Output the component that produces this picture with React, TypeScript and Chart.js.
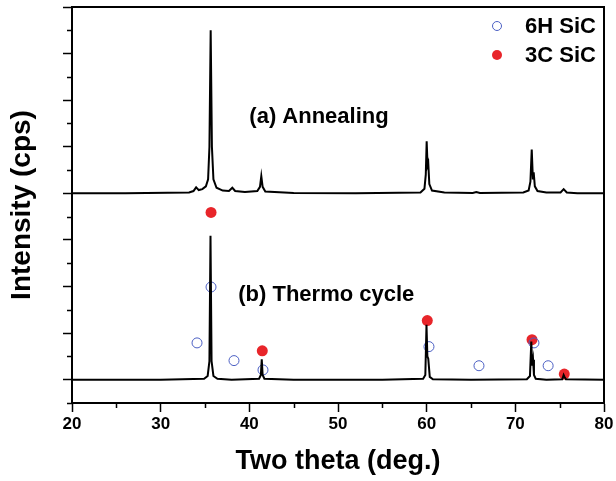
import React, { useEffect, useRef } from "react";
import { Chart, registerables } from "chart.js";

Chart.register(...registerables);

// Trace (a) Annealing (offset baseline = 4)
const annealX = [20, 26, 33.2, 33.7, 34.0, 34.3, 34.7, 35.1, 35.35, 35.5, 35.64, 35.78, 35.95, 36.3, 37.0, 37.7, 38.08, 38.4, 39.5, 40.9, 41.2, 41.35, 41.5, 41.8, 45, 52, 59.3, 59.75, 59.9, 60.0, 60.1, 60.18, 60.3, 60.6, 62, 65.2, 65.6, 66.0, 70.9, 71.5, 71.7, 71.85, 71.98, 72.07, 72.2, 72.5, 73.5, 75.1, 75.45, 75.8, 77, 80];
const annealY = [4.0, 4.0, 4.02, 4.05, 4.13, 4.07, 4.09, 4.15, 4.3, 5.0, 7.5, 5.0, 4.3, 4.12, 4.06, 4.05, 4.12, 4.05, 4.03, 4.05, 4.14, 4.37, 4.14, 4.04, 4.01, 4.0, 4.02, 4.1, 4.4, 5.12, 4.6, 4.65, 4.2, 4.06, 4.02, 4.01, 4.03, 4.01, 4.02, 4.06, 4.25, 4.94, 4.3, 4.45, 4.15, 4.05, 4.02, 4.02, 4.09, 4.02, 4.0, 4.0];

// Trace (b) Thermo cycle (baseline = 0)
const thermoX = [20, 30, 34.9, 35.3, 35.5, 35.62, 35.74, 35.95, 36.4, 38, 41.1, 41.3, 41.4, 41.5, 41.7, 45, 55, 59.6, 59.85, 59.98, 60.08, 60.18, 60.35, 60.7, 65, 71.3, 71.65, 71.8, 71.9, 72.0, 72.1, 72.3, 73.5, 75.3, 75.45, 75.55, 75.7, 80];
const thermoY = [0, 0, 0.02, 0.08, 0.4, 3.09, 0.4, 0.08, 0.02, 0, 0.02, 0.1, 0.44, 0.1, 0.02, 0, 0, 0.02, 0.1, 1.18, 0.5, 0.45, 0.06, 0.01, 0, 0.01, 0.08, 0.82, 0.3, 0.43, 0.1, 0.02, 0, 0.01, 0.1, 0.06, 0.01, 0];

// Phase markers
const sic6HX = [34.1, 35.68, 38.27, 41.54, 60.26, 65.9, 72.1, 73.7];
const sic6HY = [0.79, 1.99, 0.41, 0.21, 0.71, 0.3, 0.79, 0.3];
const sic3CX = [35.68, 41.46, 60.07, 71.88, 75.52];
const sic3CY = [3.59, 0.62, 1.27, 0.86, 0.12];

const xTicks = [20, 30, 40, 50, 60, 70, 80];
const xMinorTicks = [25, 35, 45, 55, 65, 75];
const yMinorTicks = [-0.5, 0.5, 1.5, 2.5, 3.5, 4.5, 5.5, 6.5, 7.5];

const seriesLabels = ["6H SiC", "3C SiC"];
const panelLabels = ["(a) Annealing", "(b) Thermo cycle"];

const FONT = "'Liberation Sans', Arial, sans-serif";
const BLUE = "#4b5fc3";
const RED = "#e8252a";

const zip = (xs: number[], ys: number[]) => xs.map((x, i) => ({ x, y: ys[i] }));

export default function App() {
  const ref = useRef<HTMLCanvasElement | null>(null);

  useEffect(() => {
    document.body.style.margin = "0";
    const canvas = ref.current!;
    const overlay = {
      id: "overlay",
      afterDraw(chart: any) {
        const { ctx, chartArea: ca, scales } = chart;
        const xs = scales.x;
        const ys = scales.y;
        ctx.save();
        ctx.strokeStyle = "#000";
        ctx.lineWidth = 2;
        // top and right frame
        ctx.beginPath();
        ctx.moveTo(ca.left, ca.top);
        ctx.lineTo(ca.right, ca.top);
        ctx.lineTo(ca.right, ca.bottom);
        ctx.stroke();
        // minor ticks
        ctx.lineWidth = 1.5;
        ctx.beginPath();
        xMinorTicks.forEach((v) => {
          const px = Math.round(xs.getPixelForValue(v)) + 0.5;
          ctx.moveTo(px, ca.bottom);
          ctx.lineTo(px, ca.bottom + 5);
        });
        yMinorTicks.forEach((v) => {
          const py = Math.round(ys.getPixelForValue(v)) + 0.5;
          ctx.moveTo(ca.left, py);
          ctx.lineTo(ca.left - 5, py);
        });
        ctx.stroke();
        // panel labels
        ctx.fillStyle = "#000";
        ctx.font = `bold 22px ${FONT}`;
        ctx.textBaseline = "middle";
        ctx.textAlign = "left";
        ctx.fillText(panelLabels[0], xs.getPixelForValue(40.0), ys.getPixelForValue(5.65));
        ctx.fillText(panelLabels[1], xs.getPixelForValue(38.75), ys.getPixelForValue(1.83));
        // legend
        ctx.font = `bold 22px ${FONT}`;
        const lx = ca.right - 107;
        ctx.beginPath();
        ctx.arc(lx, 26, 4.5, 0, Math.PI * 2);
        ctx.lineWidth = 1;
        ctx.strokeStyle = BLUE;
        ctx.stroke();
        ctx.beginPath();
        ctx.arc(lx, 55, 5, 0, Math.PI * 2);
        ctx.fillStyle = RED;
        ctx.fill();
        ctx.fillStyle = "#000";
        ctx.fillText(seriesLabels[0], lx + 28, 27);
        ctx.fillText(seriesLabels[1], lx + 28, 56);
        ctx.restore();
      },
    };

    const chart = new Chart(canvas, {
      type: "scatter",
      data: {
        datasets: [
          {
            label: "(a) Annealing",
            data: zip(annealX, annealY),
            showLine: true,
            borderColor: "#000",
            borderWidth: 2,
            pointRadius: 0,
            tension: 0,
            order: 0,
          },
          {
            label: "(b) Thermo cycle",
            data: zip(thermoX, thermoY),
            showLine: true,
            borderColor: "#000",
            borderWidth: 2,
            pointRadius: 0,
            tension: 0,
            order: 0,
          },
          {
            label: seriesLabels[0],
            data: zip(sic6HX, sic6HY),
            pointRadius: 5,
            pointBorderWidth: 1,
            pointBorderColor: BLUE,
            pointBackgroundColor: "rgba(0,0,0,0)",
            borderColor: BLUE,
            backgroundColor: "rgba(0,0,0,0)",
            order: 1,
          },
          {
            label: seriesLabels[1],
            data: zip(sic3CX, sic3CY),
            pointRadius: 5.5,
            pointBorderWidth: 0,
            pointBackgroundColor: RED,
            borderColor: RED,
            backgroundColor: RED,
            order: 1,
          },
        ],
      },
      options: {
        responsive: false,
        animation: false,
        events: [],
        layout: { padding: { top: 7, right: 12, left: 0, bottom: 0 } },
        plugins: { legend: { display: false }, tooltip: { enabled: false } },
        scales: {
          x: {
            type: "linear",
            min: 20,
            max: 80,
            afterBuildTicks: (s: any) => {
              s.ticks = xTicks.map((v) => ({ value: v }));
            },
            ticks: {
              color: "#000",
              font: { family: FONT, size: 17, weight: "bold" },
              padding: 2,
            },
            grid: { drawOnChartArea: false, tickLength: 9, tickColor: "#000", tickWidth: 1.5 },
            border: { color: "#000", width: 2 },
            title: {
              display: true,
              text: "Two theta (deg.)",
              color: "#000",
              font: { family: FONT, size: 27, weight: "bold" },
              padding: { top: 0, bottom: 3 },
            },
            afterFit: (s: any) => {
              s.height = 78;
            },
          },
          y: {
            type: "linear",
            min: -0.5,
            max: 8,
            afterBuildTicks: (s: any) => {
              s.ticks = [0, 1, 2, 3, 4, 5, 6, 7, 8].map((v) => ({ value: v }));
            },
            ticks: { display: false },
            grid: { drawOnChartArea: false, tickLength: 9, tickColor: "#000", tickWidth: 1.5 },
            border: { color: "#000", width: 2 },
            title: {
              display: true,
              text: "Intensity (cps)",
              color: "#000",
              font: { family: FONT, size: 28, weight: "bold" },
              padding: { top: 5, bottom: 0 },
            },
            afterFit: (s: any) => {
              s.width = 72;
            },
          },
        },
      },
      plugins: [overlay],
    });
    return () => chart.destroy();
  }, []);

  return (
    <div style={{ width: 616, height: 481, background: "#fff" }}>
      <canvas ref={ref} width={616} height={481} style={{ display: "block" }} />
    </div>
  );
}
